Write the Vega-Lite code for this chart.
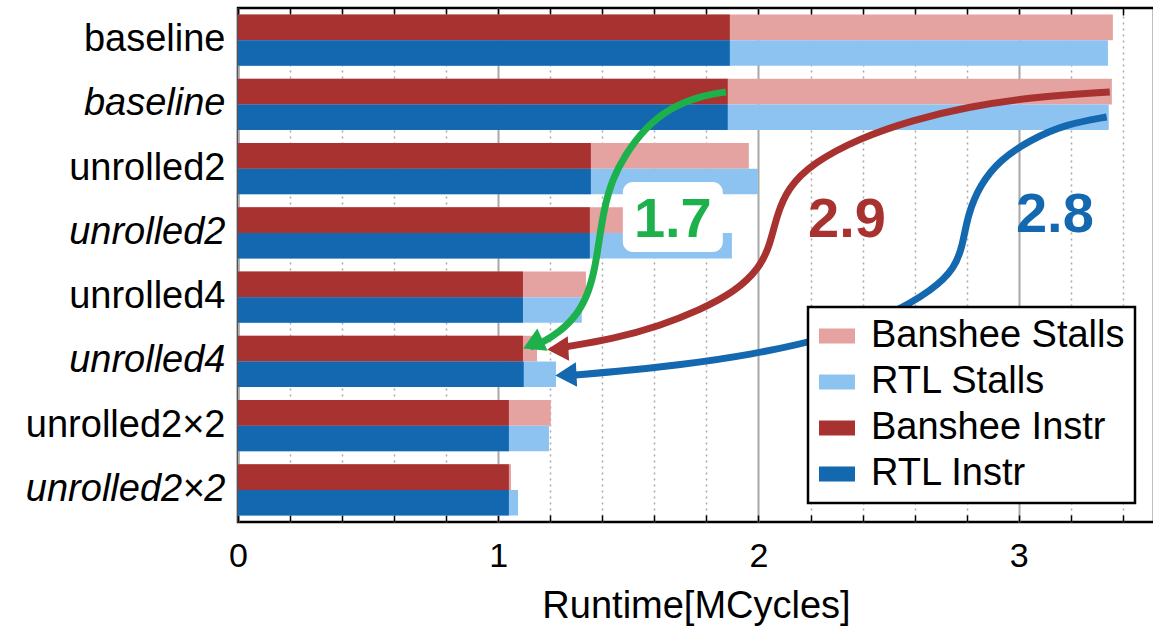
{
  "$schema": "https://vega.github.io/schema/vega-lite/v6.json",
  "width": 916,
  "height": 514,
  "autosize": {"type": "none"},
  "padding": {"left": 238, "top": 8, "right": 0, "bottom": 111},
  "config": {
    "font": "Liberation Sans",
    "view": {"stroke": "black", "strokeWidth": 2.5}
  },
  "datasets": {
    "bars": [
      {"cat": "baseline|n", "sim": "Banshee", "instr": 1.890, "total": 3.362},
      {"cat": "baseline|n", "sim": "RTL", "instr": 1.890, "total": 3.343},
      {"cat": "baseline|i", "sim": "Banshee", "instr": 1.882, "total": 3.358},
      {"cat": "baseline|i", "sim": "RTL", "instr": 1.882, "total": 3.346},
      {"cat": "unrolled2|n", "sim": "Banshee", "instr": 1.356, "total": 1.963},
      {"cat": "unrolled2|n", "sim": "RTL", "instr": 1.356, "total": 1.998},
      {"cat": "unrolled2|i", "sim": "Banshee", "instr": 1.352, "total": 1.72},
      {"cat": "unrolled2|i", "sim": "RTL", "instr": 1.352, "total": 1.898},
      {"cat": "unrolled4|n", "sim": "Banshee", "instr": 1.095, "total": 1.337},
      {"cat": "unrolled4|n", "sim": "RTL", "instr": 1.095, "total": 1.321},
      {"cat": "unrolled4|i", "sim": "Banshee", "instr": 1.095, "total": 1.149},
      {"cat": "unrolled4|i", "sim": "RTL", "instr": 1.098, "total": 1.222},
      {"cat": "unrolled2×2|n", "sim": "Banshee", "instr": 1.041, "total": 1.202},
      {"cat": "unrolled2×2|n", "sim": "RTL", "instr": 1.041, "total": 1.195},
      {"cat": "unrolled2×2|i", "sim": "Banshee", "instr": 1.041, "total": 1.049},
      {"cat": "unrolled2×2|i", "sim": "RTL", "instr": 1.041, "total": 1.076}
    ],
    "arrows": [
      {"arrow": "green", "i": 0, "x": 1.875, "y": 1.307},
      {"arrow": "green", "i": 1, "x": 1.775, "y": 1.370},
      {"arrow": "green", "i": 2, "x": 1.660, "y": 1.556},
      {"arrow": "green", "i": 3, "x": 1.564, "y": 1.868},
      {"arrow": "green", "i": 4, "x": 1.487, "y": 2.288},
      {"arrow": "green", "i": 5, "x": 1.437, "y": 2.677},
      {"arrow": "green", "i": 6, "x": 1.406, "y": 3.144},
      {"arrow": "green", "i": 7, "x": 1.391, "y": 3.533},
      {"arrow": "green", "i": 8, "x": 1.372, "y": 4.047},
      {"arrow": "green", "i": 9, "x": 1.348, "y": 4.420},
      {"arrow": "green", "i": 10, "x": 1.306, "y": 4.763},
      {"arrow": "green", "i": 11, "x": 1.237, "y": 5.043},
      {"arrow": "green", "i": 12, "x": 1.160, "y": 5.230},
      {"arrow": "green", "i": 13, "x": 1.122, "y": 5.276},
      {"arrow": "red", "i": 0, "x": 3.350, "y": 1.307},
      {"arrow": "red", "i": 1, "x": 3.054, "y": 1.385},
      {"arrow": "red", "i": 2, "x": 2.801, "y": 1.541},
      {"arrow": "red", "i": 3, "x": 2.593, "y": 1.743},
      {"arrow": "red", "i": 4, "x": 2.390, "y": 2.023},
      {"arrow": "red", "i": 5, "x": 2.209, "y": 2.412},
      {"arrow": "red", "i": 6, "x": 2.113, "y": 2.802},
      {"arrow": "red", "i": 7, "x": 2.071, "y": 3.222},
      {"arrow": "red", "i": 8, "x": 2.044, "y": 3.689},
      {"arrow": "red", "i": 9, "x": 2.005, "y": 4.047},
      {"arrow": "red", "i": 10, "x": 1.909, "y": 4.420},
      {"arrow": "red", "i": 11, "x": 1.775, "y": 4.700},
      {"arrow": "red", "i": 12, "x": 1.621, "y": 4.949},
      {"arrow": "red", "i": 13, "x": 1.441, "y": 5.152},
      {"arrow": "red", "i": 14, "x": 1.256, "y": 5.276},
      {"arrow": "blue", "i": 0, "x": 3.338, "y": 1.696},
      {"arrow": "blue", "i": 1, "x": 3.185, "y": 1.805},
      {"arrow": "blue", "i": 2, "x": 3.043, "y": 2.054},
      {"arrow": "blue", "i": 3, "x": 2.927, "y": 2.366},
      {"arrow": "blue", "i": 4, "x": 2.851, "y": 2.755},
      {"arrow": "blue", "i": 5, "x": 2.804, "y": 3.222},
      {"arrow": "blue", "i": 6, "x": 2.785, "y": 3.689},
      {"arrow": "blue", "i": 7, "x": 2.755, "y": 4.047},
      {"arrow": "blue", "i": 8, "x": 2.670, "y": 4.389},
      {"arrow": "blue", "i": 9, "x": 2.505, "y": 4.778},
      {"arrow": "blue", "i": 10, "x": 2.274, "y": 5.136},
      {"arrow": "blue", "i": 11, "x": 1.967, "y": 5.401},
      {"arrow": "blue", "i": 12, "x": 1.698, "y": 5.556},
      {"arrow": "blue", "i": 13, "x": 1.441, "y": 5.665},
      {"arrow": "blue", "i": 14, "x": 1.295, "y": 5.712}
    ],
    "heads": [
      {"arrow": "green", "x": 1.133, "y": 5.23},
      {"arrow": "red", "x": 1.229, "y": 5.307},
      {"arrow": "blue", "x": 1.260, "y": 5.712}
    ],
    "labels": [
      {"arrow": "green", "text": "1.7", "x": 1.671, "y": 3.30},
      {"arrow": "red", "text": "2.9", "x": 2.340, "y": 3.30},
      {"arrow": "blue", "text": "2.8", "x": 3.139, "y": 3.22}
    ],
    "box": [
      {"x": 1.479, "x2": 1.863, "y": 2.708, "y2": 3.798}
    ]
  },
  "layer": [
    {
      "data": {"name": "bars"},
      "transform": [
        {"calculate": "datum.sim + ' Stalls'", "as": "stallKey"},
        {"calculate": "datum.sim + ' Instr'", "as": "instrKey"}
      ],
      "encoding": {
        "y": {
          "field": "cat", "type": "nominal", "sort": null,
          "scale": {"paddingInner": 0.2, "paddingOuter": 0.1},
          "axis": {
            "title": null, "domain": false, "ticks": false,
            "labelFont": "Liberation Sans", "labelFontSize": 38, "labelColor": "black", "labelPadding": 13,
            "labelLimit": 400,
            "labelExpr": "split(datum.value, '|')[0]",
            "labelFontStyle": {"condition": {"test": "indexof(datum.value, '|i') >= 0", "value": "italic"}, "value": "normal"}
          }
        },
        "yOffset": {"field": "sim", "type": "nominal", "scale": {"domain": ["Banshee", "RTL"], "paddingInner": 0, "paddingOuter": 0}}
      },
      "layer": [
        {
          "mark": {"type": "bar"},
          "encoding": {
            "x": {
              "field": "total", "type": "quantitative",
              "scale": {"domain": [0, 3.52], "nice": false, "zero": true},
              "axis": {
                "orient": "top", "title": null, "labels": false, "grid": false, "domain": false,
                "values": [0, 0.2, 0.4, 0.6, 0.8, 1, 1.2, 1.4, 1.6, 1.8, 2, 2.2, 2.4, 2.6, 2.8, 3, 3.2, 3.4],
                "ticks": true, "tickSize": -7, "tickColor": "black", "tickWidth": 1.5
              }
            },
            "color": {
              "field": "stallKey", "type": "nominal",
              "scale": {
                "domain": ["Banshee Stalls", "RTL Stalls", "Banshee Instr", "RTL Instr"],
                "range": ["#e4a2a0", "#8dc3f1", "#a83230", "#1368b0"]
              },
              "legend": {
                "title": null, "orient": "none", "legendX": 570, "legendY": 299,
                "padding": 10, "strokeColor": "black", "fillColor": "white",
                "symbolType": "M-1,-0.42H1V0.42H-1Z", "symbolSize": 1296, "symbolStrokeWidth": 0,
                "symbolOpacity": 1,
                "labelFont": "Liberation Sans", "labelFontSize": 38, "labelColor": "black", "labelOffset": 15, "rowPadding": 8,
                "labelLimit": 500,
                "encode": {"legend": {"update": {"strokeWidth": {"value": 2.5}}}}
              }
            }
          }
        },
        {
          "mark": {"type": "bar"},
          "encoding": {
            "x": {
              "field": "instr", "type": "quantitative",
              "axis": {
                "orient": "bottom", "title": "Runtime[MCycles]", "domain": false,
                "values": [0, 0.2, 0.4, 0.6, 0.8, 1, 1.2, 1.4, 1.6, 1.8, 2, 2.2, 2.4, 2.6, 2.8, 3, 3.2, 3.4],
                "labelExpr": "datum.value % 1 === 0 ? format(datum.value, 'd') : ''",
                "labelFont": "Liberation Sans", "labelFontSize": 34, "labelColor": "black", "labelPadding": 24,
                "labelFlush": false, "labelOverlap": false,
                "ticks": true, "tickSize": -7, "tickColor": "black", "tickWidth": 1.5,
                "grid": true,
                "gridColor": "#a8a8a8",
                "gridWidth": {"condition": {"test": "datum.value % 1 === 0", "value": 2}, "value": 1.5},
                "gridDash": {"condition": {"test": "datum.value % 1 === 0", "value": []}, "value": [2, 4]},
                "titleFont": "Liberation Sans", "titleFontSize": 38, "titleFontWeight": "normal", "titleColor": "black", "titlePadding": 14
              }
            },
            "color": {"field": "instrKey", "type": "nominal"}
          }
        }
      ]
    },
    {
      "encoding": {
        "x": {"type": "quantitative", "axis": null},
        "y": {"type": "quantitative", "axis": null, "scale": {"domain": [0, 8], "reverse": true, "nice": false, "zero": false}}
      },
      "layer": [
        {
          "data": {"name": "box"},
          "mark": {"type": "rect", "fill": "white", "cornerRadius": 10},
          "encoding": {
            "x": {"field": "x", "type": "quantitative", "axis": null},
            "x2": {"field": "x2"},
            "y": {"field": "y", "type": "quantitative", "axis": null},
            "y2": {"field": "y2"}
          }
        },
        {
          "data": {"name": "arrows"},
          "mark": {"type": "line", "interpolate": "basis", "strokeWidth": 7, "strokeCap": "butt"},
          "encoding": {
            "x": {"field": "x", "type": "quantitative", "axis": null},
            "y": {"field": "y", "type": "quantitative", "axis": null},
            "order": {"field": "i", "type": "quantitative"},
            "detail": {"field": "arrow", "type": "nominal"},
            "stroke": {"field": "arrow", "type": "nominal", "legend": null,
              "scale": {"domain": ["green", "red", "blue"], "range": ["#1db14b", "#a83230", "#1368b0"]}}
          }
        },
        {
          "data": {"name": "heads"},
          "transform": [{"filter": "datum.arrow === 'green'"}],
          "mark": {"type": "point", "shape": "triangle-left", "filled": true, "size": 600, "angle": 335, "opacity": 1, "fill": "#1db14b", "strokeWidth": 0},
          "encoding": {
            "x": {"field": "x", "type": "quantitative", "axis": null},
            "y": {"field": "y", "type": "quantitative", "axis": null}
          }
        },
        {
          "data": {"name": "heads"},
          "transform": [{"filter": "datum.arrow === 'red'"}],
          "mark": {"type": "point", "shape": "triangle-left", "filled": true, "size": 600, "angle": 357, "opacity": 1, "fill": "#a83230", "strokeWidth": 0},
          "encoding": {
            "x": {"field": "x", "type": "quantitative", "axis": null},
            "y": {"field": "y", "type": "quantitative", "axis": null}
          }
        },
        {
          "data": {"name": "heads"},
          "transform": [{"filter": "datum.arrow === 'blue'"}],
          "mark": {"type": "point", "shape": "triangle-left", "filled": true, "size": 600, "angle": 357, "opacity": 1, "fill": "#1368b0", "strokeWidth": 0},
          "encoding": {
            "x": {"field": "x", "type": "quantitative", "axis": null},
            "y": {"field": "y", "type": "quantitative", "axis": null}
          }
        },
        {
          "data": {"name": "labels"},
          "mark": {"type": "text", "font": "Liberation Sans", "fontWeight": "bold", "fontSize": 56, "baseline": "middle", "align": "center"},
          "encoding": {
            "x": {"field": "x", "type": "quantitative", "axis": null},
            "y": {"field": "y", "type": "quantitative", "axis": null},
            "text": {"field": "text"},
            "fill": {"field": "arrow", "type": "nominal", "legend": null,
              "scale": {"domain": ["green", "red", "blue"], "range": ["#1db14b", "#a83230", "#1368b0"]}}
          }
        }
      ]
    }
  ],
  "resolve": {"scale": {"y": "independent"}}
}
